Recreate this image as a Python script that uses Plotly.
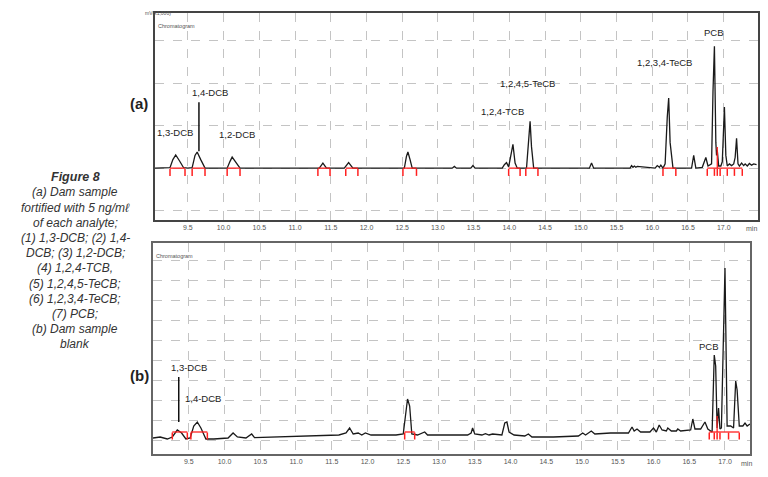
import plotly.graph_objects as go

# panel (a): fortified dam sample, retention time (min) / signal (grid units)
t_a = [9.04, 9.20, 9.25, 9.29, 9.33, 9.38, 9.44, 9.50, 9.56, 9.60, 9.63, 9.68, 9.74,
       9.90, 10.05, 10.09, 10.12, 10.17, 10.23, 10.60, 11.00, 11.34, 11.39, 11.44,
       11.69, 11.75, 11.81, 12.20, 12.53, 12.56, 12.58, 12.61, 12.64, 13.00, 13.20,
       13.23, 13.26, 13.46, 13.49, 13.52, 13.90, 13.93, 13.96, 13.99, 14.02, 14.05,
       14.08, 14.11, 14.24, 14.27, 14.29, 14.31, 14.34, 14.70, 15.12, 15.15, 15.18,
       15.69, 15.71, 15.73, 15.75, 15.77, 15.79, 16.04, 16.07, 16.10, 16.12, 16.15,
       16.18, 16.21, 16.23, 16.25, 16.29, 16.40, 16.55, 16.58, 16.61, 16.70, 16.73,
       16.75, 16.78, 16.83, 16.85, 16.87, 16.89, 16.90, 16.91, 16.93, 16.96, 16.98,
       17.00, 17.01, 17.03, 17.05, 17.08, 17.11, 17.14, 17.16, 17.18, 17.20, 17.22,
       17.25, 17.28, 17.30, 17.33, 17.36, 17.39, 17.42, 17.46]
sig_a = [0.0, 0.0, 0.01, 0.2, 0.31, 0.18, 0.01, 0.0, 0.01, 0.3, 0.38, 0.2, 0.0,
         0.0, 0.0, 0.16, 0.26, 0.14, 0.0, 0.0, 0.0, 0.0, 0.12, 0.0,
         0.0, 0.13, 0.0, 0.0, 0.0, 0.28, 0.38, 0.2, 0.0, 0.0, 0.0,
         0.04, 0.0, 0.0, 0.06, 0.0, 0.0, 0.08, 0.13, 0.03, 0.3, 0.56,
         0.12, 0.0, 0.0, 0.8, 1.1, 0.5, 0.0, 0.0, 0.0, 0.12, 0.0,
         0.0, 0.06, 0.02, 0.05, 0.02, 0.04, 0.0, 0.06, 0.02, 0.07, 0.0,
         0.1, 1.2, 1.65, 0.6, 0.0, 0.0, 0.0, 0.3, 0.0, 0.02, 0.15,
         0.25, 0.05, 0.1, 1.8, 2.87, 0.6, 0.3, 0.42, 0.05, 0.05, 0.15,
         1.0, 1.44, 0.3, 0.05, 0.1, 0.06, 0.1, 0.25, 0.7, 0.1, 0.05,
         0.12, 0.06, 0.1, 0.05, 0.11, 0.07, 0.1, 0.08]

# panel (b): dam sample blank
t_b = [9.00, 9.10, 9.20, 9.27, 9.34, 9.40, 9.46, 9.52, 9.57, 9.62, 9.67, 9.74, 9.85,
       10.05, 10.12, 10.18, 10.30, 10.38, 10.42, 10.70, 11.00, 11.30, 11.60, 11.70,
       11.75, 11.80, 11.87, 11.92, 11.97, 12.05, 12.40, 12.50, 12.54, 12.56, 12.59,
       12.62, 12.70, 12.80, 12.84, 13.00, 13.40, 13.45, 13.47, 13.50, 13.60, 13.65,
       13.70, 13.75, 13.88, 13.92, 13.95, 13.98, 14.05, 14.20, 14.25, 14.30, 14.60,
       14.95, 15.01, 15.05, 15.10, 15.13, 15.18, 15.40, 15.65, 15.70, 15.73, 15.77,
       15.82, 15.95, 16.00, 16.04, 16.08, 16.12, 16.18, 16.20, 16.25, 16.32, 16.34,
       16.38, 16.52, 16.55, 16.58, 16.66, 16.72, 16.76, 16.82, 16.85, 16.87, 16.89,
       16.91, 16.93, 16.95, 16.97, 17.00, 17.03, 17.08, 17.12, 17.15, 17.17, 17.20,
       17.25, 17.28, 17.31, 17.35]
sig_b = [0.10, 0.15, 0.05, 0.15, 0.50, 0.35, 0.05, 0.10, 0.70, 0.90, 0.60, 0.05, 0.05,
         0.10, 0.35, 0.15, 0.10, 0.30, 0.12, 0.15, 0.15, 0.20, 0.25, 0.35,
         0.60, 0.30, 0.35, 0.25, 0.35, 0.25, 0.25, 0.30, 1.60, 2.05, 1.70,
         0.30, 0.25, 0.40, 0.25, 0.25, 0.25, 0.35, 0.60, 0.30, 0.25, 0.32,
         0.25, 0.30, 0.25, 0.85, 0.90, 0.40, 0.25, 0.20, 0.30, 0.15, 0.15,
         0.20, 0.35, 0.25, 0.40, 0.45, 0.30, 0.35, 0.35, 0.65, 0.45, 0.55,
         0.40, 0.40, 0.60, 0.40, 0.75, 0.50, 0.45, 0.60, 0.45, 0.45, 0.55,
         0.45, 0.50, 1.05, 0.55, 0.55, 0.90, 0.55, 0.40, 4.25, 3.70, 0.60,
         1.60, 0.55, 0.60, 4.55, 8.60, 0.70, 0.70, 0.60, 2.95, 2.50, 0.70,
         0.70, 0.85, 0.70, 0.80]

# integration baselines (start, end) drawn in red
red_a_start = [9.25, 9.56, 10.05, 11.32, 11.71, 12.51, 13.99, 14.23, 16.15, 16.77]
red_a_end = [9.46, 9.74, 10.23, 11.49, 11.88, 12.70, 14.15, 14.40, 16.33, 17.26]
red_a_ticks = [16.87, 16.91, 16.95, 17.05, 17.15]
red_b_start = [9.27, 9.53, 12.52, 16.78]
red_b_end = [9.48, 9.76, 12.66, 17.20]
red_b_ticks = [16.85, 16.89, 16.93, 17.05]
red_b_level = 0.4

tick_vals = [9.5, 10.0, 10.5, 11.0, 11.5, 12.0, 12.5, 13.0, 13.5, 14.0, 14.5, 15.0,
             15.5, 16.0, 16.5, 17.0]
tick_text = ["9.5", "10.0", "10.5", "11.0", "11.5", "12.0", "12.5", "13.0", "13.5",
             "14.0", "14.5", "15.0", "15.5", "16.0", "16.5", "17.0"]

# peak labels: (text, time, signal)
labels_a = [("1,3-DCB", 9.32, 0.85), ("1,4-DCB", 9.81, 1.79), ("1,2-DCB", 10.19, 0.80),
            ("1,2,4-TCB", 13.91, 1.34), ("1,2,4,5-TeCB", 14.26, 2.0),
            ("1,2,3,4-TeCB", 16.17, 2.49), ("PCB", 16.87, 3.18)]
labels_b = [("1,3-DCB", 9.50, 3.65), ("1,4-DCB", 9.70, 2.1), ("PCB", 16.78, 4.7)]

caption = ["(a) Dam sample", "fortified with 5 ng/m\u2113", "of each analyte;",
           "(1) 1,3-DCB; (2) 1,4-", "DCB; (3) 1,2-DCB;", "(4) 1,2,4-TCB,",
           "(5) 1,2,4,5-TeCB;", "(6) 1,2,3,4-TeCB;", "(7) PCB;", "(b) Dam sample",
           "blank"]

W, H = 768, 477
OFF = 8  # the page body adds an 8px margin, so layout is placed 8px up/left
FONT = "Arial, Liberation Sans, sans-serif"
RED = "#ff2020"


def px(x):
    return (x - OFF) / W


def py(y):
    return 1 - (y - OFF) / H


def red_segments(starts, ends, level):
    xs, ys = [], []
    for s, e in zip(starts, ends):
        xs += [s, e, None]
        ys += [level, level, None]
    return xs, ys


fig = go.Figure()

fig.add_trace(go.Scatter(x=t_a, y=sig_a, mode="lines", line=dict(color="#1a1a1a", width=1.3),
                         xaxis="x", yaxis="y", showlegend=False))
rx, ry = red_segments(red_a_start, red_a_end, 0.0)
fig.add_trace(go.Scatter(x=rx, y=ry, mode="lines", line=dict(color=RED, width=1.3),
                         xaxis="x", yaxis="y", showlegend=False))
fig.add_trace(go.Scatter(x=red_a_start + red_a_end + red_a_ticks,
                         y=[-0.1] * (len(red_a_start) * 2 + len(red_a_ticks)),
                         mode="markers",
                         marker=dict(symbol="line-ns-open", size=5, color=RED,
                                     line=dict(color=RED, width=1.5)),
                         xaxis="x", yaxis="y", showlegend=False))
fig.add_trace(go.Scatter(x=[16.91, 16.91], y=[0.0, 0.5], mode="lines",
                         line=dict(color=RED, width=1.3),
                         xaxis="x", yaxis="y", showlegend=False))
fig.add_trace(go.Scatter(x=[9.655, 9.655], y=[1.55, 0.4], mode="lines",
                         line=dict(color="#111", width=1.5),
                         xaxis="x", yaxis="y", showlegend=False))

fig.add_trace(go.Scatter(x=t_b, y=sig_b, mode="lines", line=dict(color="#1a1a1a", width=1.3),
                         xaxis="x2", yaxis="y2", showlegend=False))
rx, ry = red_segments(red_b_start, red_b_end, red_b_level)
fig.add_trace(go.Scatter(x=rx, y=ry, mode="lines", line=dict(color=RED, width=1.3),
                         xaxis="x2", yaxis="y2", showlegend=False))
fig.add_trace(go.Scatter(x=red_b_start + red_b_end + red_b_ticks,
                         y=[red_b_level - 0.2] * (len(red_b_start) * 2 + len(red_b_ticks)),
                         mode="markers",
                         marker=dict(symbol="line-ns-open", size=5, color=RED,
                                     line=dict(color=RED, width=1.5)),
                         xaxis="x2", yaxis="y2", showlegend=False))
fig.add_trace(go.Scatter(x=[16.89, 16.89], y=[red_b_level, 1.2], mode="lines",
                         line=dict(color=RED, width=1.3),
                         xaxis="x2", yaxis="y2", showlegend=False))
fig.add_trace(go.Scatter(x=[9.36, 9.36], y=[3.15, 0.9], mode="lines",
                         line=dict(color="#111", width=1.5),
                         xaxis="x2", yaxis="y2", showlegend=False))

xcommon = dict(tickvals=tick_vals, ticktext=tick_text, showgrid=True, gridcolor="#c4c4c4",
               griddash="dash", gridwidth=1, showline=True, mirror=True, ticks="",
               zeroline=False, tickfont=dict(family=FONT, size=7, color="#555"))
ycommon = dict(showgrid=True, gridcolor="#c4c4c4", griddash="dash", gridwidth=1,
               showline=True, mirror=True, showticklabels=False, ticks="", zeroline=False)

fig.update_layout(
    width=W, height=H, margin=dict(l=0, r=0, t=0, b=0),
    paper_bgcolor="white", plot_bgcolor="white",
    xaxis=dict(domain=[px(155), px(758)], range=[9.04, 17.48], anchor="y",
               linecolor="#444", linewidth=1.5, **xcommon),
    yaxis=dict(domain=[py(220), py(13)], range=[-1.22, 3.65], anchor="x",
               tickvals=[-1, 0, 1, 2, 3], linecolor="#444", linewidth=1.5, **ycommon),
    xaxis2=dict(domain=[px(153), px(750)], range=[9.0, 17.35], anchor="y2",
                linecolor="#666", linewidth=2, **xcommon),
    yaxis2=dict(domain=[py(454), py(243)], range=[-0.7, 9.85], anchor="x2",
                tickvals=list(range(10)), linecolor="#666", linewidth=2, **ycommon),
)

ann = []
for txt, x, y in labels_a:
    ann.append(dict(text=txt, x=x, y=y, xref="x", yref="y", showarrow=False,
                    xanchor="center", yanchor="middle",
                    font=dict(family=FONT, size=9.5, color="#222")))
for txt, x, y in labels_b:
    ann.append(dict(text=txt, x=x, y=y, xref="x2", yref="y2", showarrow=False,
                    xanchor="center", yanchor="middle",
                    font=dict(family=FONT, size=9.5, color="#222")))


def paper_text(text, x, y, size, color="#333", xanchor="center", yanchor="middle"):
    ann.append(dict(text=text, x=px(x), y=py(y), xref="paper", yref="paper",
                    xanchor=xanchor, yanchor=yanchor, showarrow=False,
                    font=dict(family=FONT, size=size, color=color)))


# left caption
paper_text("<b><i>Figure 8</i></b>", 75, 177, 12.5)
for i, line in enumerate(caption):
    paper_text("<i>" + line + "</i>", 75, 192.3 + 15.2 * i, 12)

paper_text("<b>(a)</b>", 139, 103, 15, "#222")
paper_text("<b>(b)</b>", 139, 375, 15, "#222")

# tiny instrument texts
paper_text("mV(x1,000)", 143, 8, 5, "#555", "left", "top")
paper_text("Chromatogram", 156, 26, 5.5, "#555", "left")
paper_text("Chromatogram", 154, 256, 5.5, "#555", "left")
paper_text("min", 751, 228, 7, "#555")
paper_text("min", 746, 463, 7, "#555")

fig.update_layout(annotations=ann)

fig.write_html("out.html")
